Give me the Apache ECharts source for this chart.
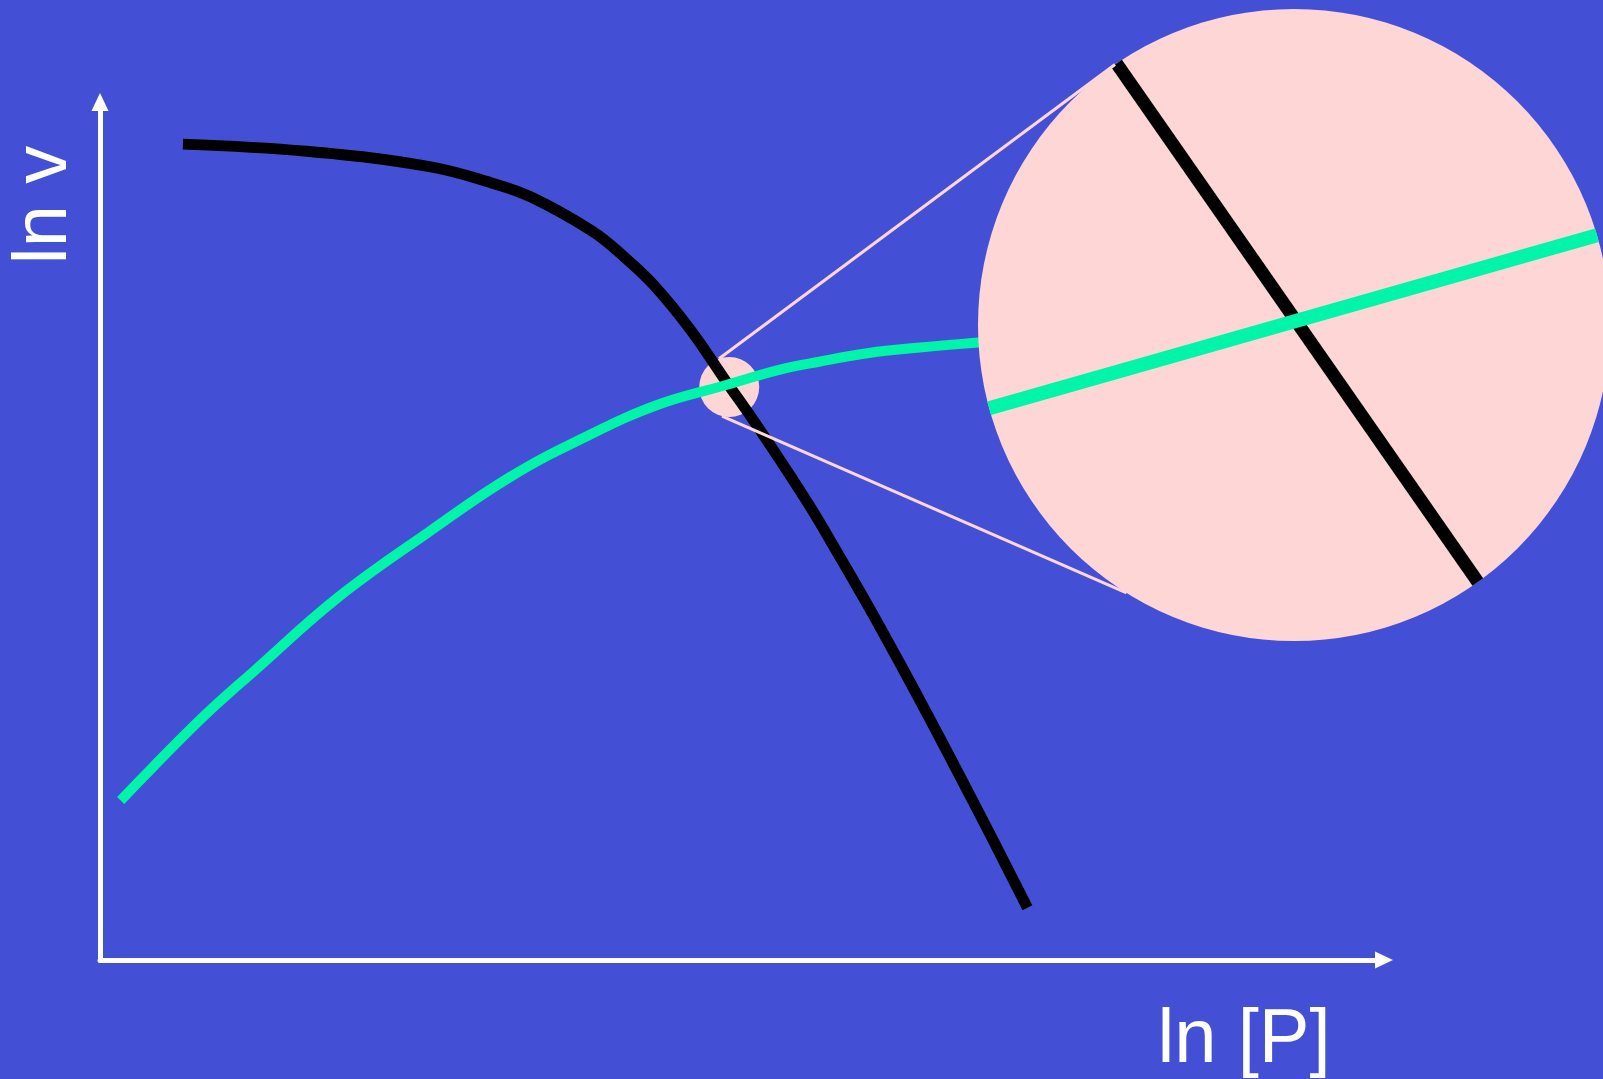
<!DOCTYPE html>
<html>
<head>
<meta charset="utf-8">
<script src="https://cdn.jsdelivr.net/npm/echarts@6/dist/echarts.min.js"></script>
<style>
html,body{margin:0;padding:0;background:#4350D6;overflow:hidden;}
#c{width:1603px;height:1079px;}
</style>
</head>
<body>
<div id="c"></div>
<script>
// ---- data (arbitrary units on both log axes) ----
const xTitle = 'ln [P]';
const yTitle = 'ln v';
const falling = [
  [6.46,95.09],[16.10,94.25],[25.65,92.47],[30.43,90.6],[33.61,88.9],
  [38.39,84.9],[40.78,82.0],[43.17,78.6],[46.0,73.43],[48.5,68.0],
  [51.4,61.77],[55.11,53.3],[57.50,47.3],[59.89,41.1],[62.27,34.65],
  [64.66,28.0],[67.05,21.2],[69.44,14.3],[72.23,6.08]
];
const rising = [
  [1.61,18.59],[4.15,22.53],[8.13,28.48],[12.12,33.84],[18.48,42.19],
  [25.65,49.93],[32.02,56.37],[38.39,61.4],[43.61,64.80],[48.5,66.9],
  [52.96,68.8],[55.90,69.7],[59.89,70.75],[63.87,71.38],[68.40,71.97],[72.0,72.4]
];

const BG = '#4350D6', GREEN = '#00F5A8', PINK = '#FFD6D6', WHITE = '#FFFFFF';

const chart = echarts.init(document.getElementById('c'), null, {renderer:'canvas'});
const axisCommon = {
  type:'value', min:0, max:100,
  axisLine:{show:true, onZero:false, symbol:['none','triangle'], symbolSize:[17,18],
            lineStyle:{color:WHITE, width:5}},
  axisTick:{show:false}, axisLabel:{show:false}, splitLine:{show:false}
};
chart.setOption({
  backgroundColor: BG,
  animation: false,
  grid: {left:100, top:102, right:219, bottom:119},
  xAxis: Object.assign({}, axisCommon),
  yAxis: Object.assign({}, axisCommon),
  series: [
    {type:'line', data: falling, smooth:0.4, showSymbol:false, z:3,
     lineStyle:{color:'#000000', width:11}},
    {type:'line', data: rising, smooth:0.4, showSymbol:false, z:3,
     lineStyle:{color:GREEN, width:10}}
  ]
});

// ---- magnifier decoration, derived from the curves through the chart scales ----
const toPx = p => chart.convertToPixel({gridIndex:0}, p);
const fPx = falling.map(toPx), rPx = rising.map(toPx);
function segInt(a,b,c,d){
  const r=[b[0]-a[0],b[1]-a[1]], s=[d[0]-c[0],d[1]-c[1]];
  const den = r[0]*s[1]-r[1]*s[0];
  if (Math.abs(den)<1e-9) return null;
  const t=((c[0]-a[0])*s[1]-(c[1]-a[1])*s[0])/den;
  const u=((c[0]-a[0])*r[1]-(c[1]-a[1])*r[0])/den;
  if (t<0||t>1||u<0||u>1) return null;
  return {p:[a[0]+t*r[0], a[1]+t*r[1]], r, s};
}
let hit=null;
for (let i=0;i<fPx.length-1 && !hit;i++)
  for (let j=0;j<rPx.length-1 && !hit;j++)
    hit = segInt(fPx[i],fPx[i+1],rPx[j],rPx[j+1]);

const focus = hit.p;
const smallR = 30;
const smallC = [focus[0]+1, focus[1]+2.5];
const bigC = [1294, 325], bigR = 316;
const magC = [bigC[0]+2, bigC[1]-4];
const norm = v => { const l=Math.hypot(v[0],v[1]); return [v[0]/l, v[1]/l]; };
const dF = norm(hit.r), dR = norm(hit.s);
function chord(m, d){
  const ox=m[0]-bigC[0], oy=m[1]-bigC[1];
  const b = ox*d[0]+oy*d[1], c = ox*ox+oy*oy-bigR*bigR;
  const disc = Math.sqrt(b*b-c);
  const t1=-b-disc, t2=-b+disc;
  return {x1:m[0]+t1*d[0], y1:m[1]+t1*d[1], x2:m[0]+t2*d[0], y2:m[1]+t2*d[1]};
}
const onCircle = (c, R, deg) => [c[0]+R*Math.cos(deg*Math.PI/180), c[1]+R*Math.sin(deg*Math.PI/180)];
const s1 = onCircle(smallC, smallR, -110), s2 = onCircle(smallC, smallR, 104);
const b1 = onCircle(bigC, bigR, -124.5), b2 = onCircle(bigC, bigR, 122);

const font = '76px "Liberation Sans", Arial, sans-serif';
chart.setOption({
  graphic: [
    {type:'circle', z:1, shape:{cx:smallC[0], cy:smallC[1], r:smallR}, style:{fill:PINK}},
    {type:'circle', z:10, shape:{cx:bigC[0], cy:bigC[1], r:bigR}, style:{fill:PINK}},
    {type:'line', z:12, shape:{x1:s1[0],y1:s1[1],x2:b1[0],y2:b1[1]}, style:{stroke:PINK, lineWidth:3}},
    {type:'line', z:12, shape:{x1:s2[0],y1:s2[1],x2:b2[0],y2:b2[1]}, style:{stroke:PINK, lineWidth:3}},
    {type:'line', z:11, shape:chord(magC, dF), style:{stroke:'#000000', lineWidth:13, lineCap:'butt'}},
    {type:'line', z:11, shape:chord(magC, dR), style:{stroke:GREEN, lineWidth:14, lineCap:'butt'}},
    {type:'text', z:12, x:1244, y:1041,
     style:{text:xTitle, fill:WHITE, font:font, textAlign:'center', textVerticalAlign:'middle', align:'center', verticalAlign:'middle'}},
    {type:'text', z:12, x:45, y:205, rotation:Math.PI/2,
     style:{text:yTitle, fill:WHITE, font:font, textAlign:'center', textVerticalAlign:'middle', align:'center', verticalAlign:'middle'}}
  ]
});
</script>
</body>
</html>
